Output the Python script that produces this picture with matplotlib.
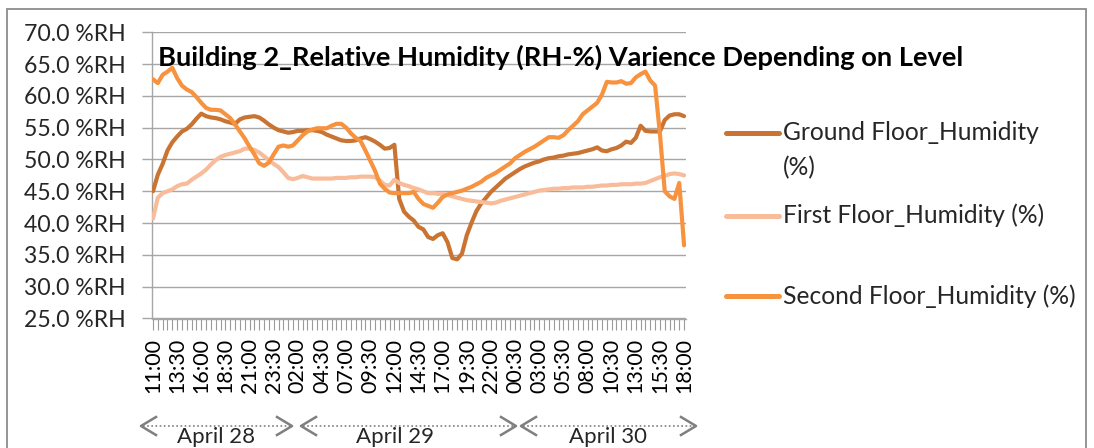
import matplotlib
matplotlib.use("Agg")
import matplotlib.pyplot as plt
from matplotlib.lines import Line2D
from matplotlib.patches import Rectangle

# ---------------- data (30-minute readings, 28 Apr 11:00 -> 30 Apr 18:00) ----------------
tick_labels = ["11:00", "13:30", "16:00", "18:30", "21:00", "23:30", "02:00", "04:30",
               "07:00", "09:30", "12:00", "14:30", "17:00", "19:30", "22:00", "00:30",
               "03:00", "05:30", "08:00", "10:30", "13:00", "15:30", "18:00"]
day_labels = ["April 28", "April 29", "April 30"]
series_names = ["Ground Floor_Humidity (%)", "First Floor_Humidity (%)",
                "Second Floor_Humidity (%)"]

ground = [45.0, 47.6, 49.3, 51.4, 52.7, 53.6, 54.4, 54.8, 55.5, 56.4,
          57.2, 56.8, 56.6, 56.5, 56.3, 56.0, 55.8, 55.6, 56.3, 56.6,
          56.7, 56.8, 56.6, 56.1, 55.5, 55.0, 54.6, 54.4, 54.2, 54.3,
          54.5, 54.5, 54.6, 54.6, 54.5, 54.3, 53.9, 53.6, 53.3, 53.0,
          52.9, 52.9, 53.0, 53.3, 53.5, 53.2, 52.8, 52.3, 51.7, 51.8,
          52.3, 43.8, 41.8, 41.0, 40.4, 39.4, 39.0, 37.8, 37.5, 38.1,
          38.4, 37.0, 34.5, 34.3, 35.2, 38.1, 40.1, 41.9, 43.1, 44.0,
          44.9, 45.6, 46.3, 47.0, 47.5, 48.0, 48.5, 48.9, 49.2, 49.5,
          49.7, 50.0, 50.2, 50.3, 50.5, 50.6, 50.8, 50.9, 51.0, 51.2,
          51.4, 51.6, 51.9, 51.4, 51.3, 51.6, 51.8, 52.2, 52.8, 52.6,
          53.4, 55.3, 54.5, 54.4, 54.4, 54.4, 56.2, 56.9, 57.1, 57.1,
          56.8]

first = [40.7, 44.0, 44.7, 45.0, 45.3, 45.8, 46.1, 46.2, 46.8, 47.3,
         47.8, 48.4, 49.2, 49.9, 50.4, 50.7, 50.9, 51.1, 51.3, 51.7,
         51.7, 51.5, 51.1, 50.5, 49.9, 49.3, 48.8, 48.0, 47.1, 46.9,
         47.1, 47.4, 47.2, 47.0, 47.0, 47.0, 47.0, 47.0, 47.1, 47.1,
         47.1, 47.2, 47.2, 47.3, 47.3, 47.3, 47.2, 46.7, 46.0, 45.9,
         46.8, 46.3, 46.0, 45.8, 45.5, 45.3, 45.0, 44.7, 44.7, 44.6,
         44.6, 44.4, 44.2, 44.0, 43.8, 43.6, 43.5, 43.4, 43.3, 43.2,
         43.1, 43.2, 43.5, 43.7, 43.9, 44.1, 44.3, 44.5, 44.7, 44.9,
         45.1, 45.2, 45.3, 45.4, 45.4, 45.5, 45.5, 45.6, 45.6, 45.6,
         45.7, 45.7, 45.8, 45.9, 45.9, 46.0, 46.0, 46.1, 46.1, 46.1,
         46.2, 46.2, 46.3, 46.6, 46.9, 47.2, 47.4, 47.7, 47.8, 47.7,
         47.5]

second = [62.6, 62.0, 63.3, 63.8, 64.4, 62.8, 61.6, 61.0, 60.6, 59.8,
          58.9, 58.1, 57.8, 57.8, 57.7, 57.1, 56.5, 55.5, 54.4, 53.3,
          52.0, 50.8, 49.4, 49.0, 49.5, 50.8, 52.0, 52.2, 52.0, 52.2,
          53.0, 53.8, 54.4, 54.7, 54.9, 54.9, 54.9, 55.3, 55.6, 55.6,
          55.0, 54.1, 53.4, 52.9, 51.4, 49.8, 48.2, 46.2, 45.4, 44.8,
          44.7, 44.7, 44.7, 44.7, 44.9, 43.8, 43.0, 42.7, 42.4, 43.2,
          44.1, 44.5, 44.7, 44.9, 45.1, 45.4, 45.7, 46.1, 46.5, 47.1,
          47.5, 47.9, 48.4, 48.9, 49.4, 50.2, 50.7, 51.2, 51.6, 52.0,
          52.5, 53.0, 53.5, 53.5, 53.4, 53.8, 54.6, 55.3, 56.0, 57.1,
          57.7, 58.3, 58.9, 60.2, 62.2, 62.1, 62.1, 62.3, 61.9, 62.0,
          62.9, 63.4, 63.8, 62.4, 61.6, 54.0, 45.0, 44.2, 43.8, 46.3,
          36.5]

colors = ["#C97433", "#F8BC9A", "#F7923F"]

W, H = 1094, 448
FONT = "Lato"
GRID = "#A6A6A6"


def fx(px):
    return px / W


def fy(py):
    return 1 - py / H


fig = plt.figure(figsize=(W / 100, H / 100), dpi=100)
fig.patch.set_facecolor("white")

# outer chart border
fig.add_artist(Rectangle((fx(7), fy(470)), fx(1086) - fx(7), fy(9) - fy(470),
                         transform=fig.transFigure, fill=False,
                         edgecolor="#8C8C8C", linewidth=1.3))

ax = fig.add_axes([fx(152.5), fy(318.5), fx(686) - fx(152.5), fy(32.2) - fy(318.5)])
ax.set_facecolor("white")

n = len(ground)
xs = list(range(n))
for vals, c in zip([ground, first, second], colors):
    ax.plot(xs, vals, color=c, linewidth=3.0, solid_joinstyle="round",
            solid_capstyle="round", zorder=3)

ax.set_ylim(25, 70)
ax.set_xlim(-0.1, n - 1 + 0.4)
yt = list(range(25, 71, 5))
ax.set_yticks(yt)
ax.set_yticklabels([f"{v:.1f} %RH" for v in yt], fontfamily=FONT, fontsize=16.6,
                   color="#262626")
ax.yaxis.grid(True, color=GRID, linewidth=1.0)
ax.set_axisbelow(True)
ax.tick_params(axis="y", length=7, width=1.0, color=GRID, pad=12.5)

# category ticks at every reading, labels every 5th reading
ax.set_xticks(xs)
lab_full = [""] * n
for k, lab in enumerate(tick_labels):
    lab_full[k * 5] = lab
ax.set_xticklabels(lab_full, rotation=90, fontfamily=FONT, fontsize=15.5,
                   color="#000000", va="top", ha="center")
ax.tick_params(axis="x", length=8, width=0.8, color="#9A9A9A", pad=6)

for s in ["top", "right"]:
    ax.spines[s].set_visible(False)
ax.spines["left"].set_color(GRID)
ax.spines["bottom"].set_color(GRID)
ax.spines["left"].set_linewidth(1.0)
ax.spines["bottom"].set_linewidth(1.0)

# title
fig.text(fx(158), fy(57), "Building 2_Relative Humidity (RH-%) Varience Depending on Level",
         fontfamily=FONT, fontweight="bold", fontsize=19.6, ha="left", va="center",
         color="#000000")

# legend (drawn by hand to follow the reference spacing)
leg = [(133, [series_names[0].replace(" (%)", ""), "(%)"], [133, 168]),
       (216, [series_names[1]], [215]),
       (296, [series_names[2]], [296])]
for (ly, texts, tys), c in zip(leg, colors):
    fig.add_artist(Line2D([fx(726), fx(779)], [fy(ly), fy(ly)], transform=fig.transFigure,
                          color=c, linewidth=3.6, solid_capstyle="round"))
    for t, ty in zip(texts, tys):
        fig.text(fx(783), fy(ty), t, fontfamily=FONT, fontsize=17.7, ha="left",
                 va="center", color="#262626")

# day spans with dotted double arrows
spans = [(141, 292), (301, 516), (521, 696)]
centers = [216, 395, 608]
ay = 426
for (x0, x1), cx, lab in zip(spans, centers, day_labels):
    fig.add_artist(Line2D([fx(x0 + 2), fx(x1 - 2)], [fy(ay), fy(ay)],
                          transform=fig.transFigure, color="#7F7F7F",
                          linewidth=1.2, linestyle=(0, (1, 1.5))))
    fig.add_artist(Line2D([fx(x0 + 15), fx(x0), fx(x0 + 15)],
                          [fy(ay - 9), fy(ay), fy(ay + 9)], transform=fig.transFigure,
                          color="#7F7F7F", linewidth=1.8))
    fig.add_artist(Line2D([fx(x1 - 15), fx(x1), fx(x1 - 15)],
                          [fy(ay - 9), fy(ay), fy(ay + 9)], transform=fig.transFigure,
                          color="#7F7F7F", linewidth=1.8))
    fig.text(fx(cx), fy(437), lab, fontfamily=FONT, fontsize=16, ha="center",
             va="center", color="#262626")

fig.savefig("out.png", dpi=100, facecolor="white")
